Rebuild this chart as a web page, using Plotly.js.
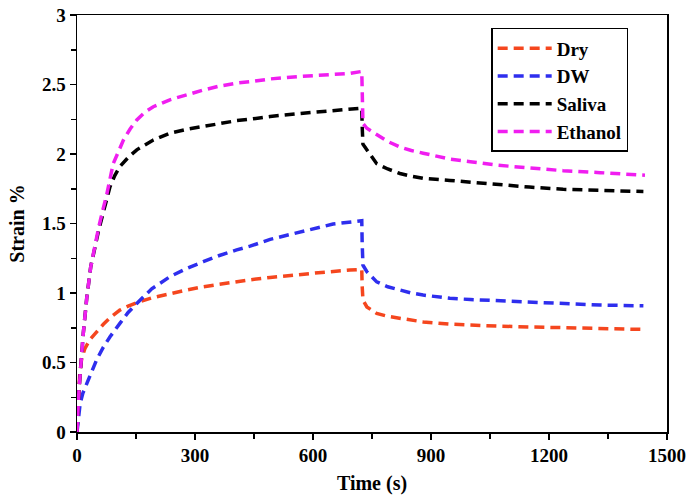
<!DOCTYPE html>
<html>
<head>
<meta charset="utf-8">
<script src="https://cdn.plot.ly/plotly-3.0.1.min.js"></script>
<style>html,body{margin:0;padding:0;background:#fff;}#chart{width:694px;height:497px;}</style>
</head>
<body>
<div id="chart"></div>
<script>
// Time (s) and strain (%)
const seriesNames = ["Dry", "DW", "Saliva", "Ethanol"];
const seriesColors = ["#F5461E", "#2E2EEE", "#000000", "#F01EF0"];

const dryTime   = [0, 3, 7, 12, 20, 33, 50, 67, 85, 109, 130, 152, 190, 236, 280, 321, 360, 406, 440, 491, 560, 630, 694, 724, 725, 727, 737, 762, 790, 821, 850, 880, 948, 1000, 1067, 1150, 1236, 1330, 1440];
const dryStrain = [0, 0.25, 0.42, 0.53, 0.60, 0.665, 0.725, 0.775, 0.825, 0.877, 0.905, 0.930, 0.965, 0.997, 1.022, 1.045, 1.062, 1.080, 1.095, 1.112, 1.133, 1.150, 1.165, 1.170, 1.05, 0.95, 0.900, 0.853, 0.832, 0.817, 0.803, 0.792, 0.776, 0.768, 0.762, 0.756, 0.750, 0.744, 0.738];

const dwTime   = [0, 3, 8, 15, 25, 37, 50, 67, 84, 110, 130, 152, 190, 236, 280, 321, 360, 406, 440, 491, 567, 651, 700, 724, 725, 727, 737, 762, 790, 821, 850, 880, 948, 1000, 1067, 1150, 1236, 1330, 1440];
const dwStrain = [0, 0.10, 0.205, 0.28, 0.35, 0.44, 0.52, 0.61, 0.685, 0.785, 0.860, 0.925, 1.030, 1.117, 1.178, 1.225, 1.268, 1.310, 1.337, 1.386, 1.440, 1.496, 1.512, 1.520, 1.36, 1.20, 1.153, 1.080, 1.045, 1.020, 1.000, 0.985, 0.962, 0.953, 0.944, 0.932, 0.920, 0.913, 0.908];

const salivaTime   = [0, 5, 16, 25, 35, 45, 55, 65, 75, 84, 96, 109, 130, 152, 194, 236, 280, 321, 360, 406, 440, 491, 560, 630, 694, 724, 725, 727, 732, 737, 750, 762, 790, 821, 850, 880, 948, 1000, 1067, 1150, 1236, 1330, 1440];
const salivaStrain = [0, 0.30, 0.71, 0.97, 1.19, 1.33, 1.45, 1.56, 1.66, 1.765, 1.845, 1.910, 1.975, 2.030, 2.100, 2.150, 2.178, 2.197, 2.220, 2.240, 2.250, 2.270, 2.290, 2.305, 2.320, 2.330, 2.20, 2.07, 2.05, 2.03, 1.975, 1.930, 1.892, 1.860, 1.840, 1.825, 1.810, 1.797, 1.780, 1.762, 1.746, 1.737, 1.730];

const ethanolTime   = [0, 5, 16, 25, 35, 45, 55, 65, 75, 92, 105, 118, 135, 152, 172, 194, 236, 280, 321, 360, 406, 440, 491, 560, 630, 694, 724, 725, 727, 737, 750, 762, 790, 821, 850, 880, 948, 1000, 1067, 1150, 1236, 1330, 1444];
const ethanolStrain = [0, 0.30, 0.71, 0.97, 1.19, 1.34, 1.47, 1.59, 1.70, 1.93, 2.02, 2.10, 2.18, 2.245, 2.300, 2.340, 2.390, 2.428, 2.460, 2.487, 2.510, 2.520, 2.540, 2.556, 2.570, 2.580, 2.594, 2.40, 2.22, 2.185, 2.160, 2.140, 2.090, 2.050, 2.025, 2.006, 1.963, 1.945, 1.920, 1.900, 1.880, 1.866, 1.847];

const xTickVals = [0, 300, 600, 900, 1200, 1500];
const xTickText = ["0", "300", "600", "900", "1200", "1500"];
const yTickVals = [0, 0.5, 1, 1.5, 2, 2.5, 3];
const yTickText = ["0", "0.5", "1", "1.5", "2", "2.5", "3"];

const times = [dryTime, dwTime, salivaTime, ethanolTime];
const strains = [dryStrain, dwStrain, salivaStrain, ethanolStrain];

const fontFam = "Liberation Serif, Times New Roman, serif";
const b = s => "<b>" + s + "</b>";

const traces = seriesNames.map((n, i) => ({
  type: "scatter",
  mode: "lines",
  name: b(n),
  x: times[i],
  y: strains[i],
  line: { color: seriesColors[i], width: 3.5, dash: "10px,6px" }
}));

const layout = {
  width: 694,
  height: 497,
  margin: { l: 77, r: 27, t: 15, b: 65 },
  paper_bgcolor: "#ffffff",
  plot_bgcolor: "#ffffff",
  font: { family: fontFam, color: "#000", size: 18 },
  showlegend: true,
  legend: {
    x: 0.702, y: 0.969, xanchor: "left", yanchor: "top",
    bgcolor: "#ffffff", bordercolor: "#000", borderwidth: 1.5,
    font: { family: fontFam, size: 19, color: "#000" },
    itemwidth: 54,
    tracegroupgap: 0
  },
  xaxis: {
    range: [0, 1500],
    tickvals: xTickVals,
    ticktext: xTickText.map(b),
    ticks: "outside", ticklen: 6, tickwidth: 1.5, tickcolor: "#000",
    minor: { dtick: 150, ticks: "outside", ticklen: 5, tickwidth: 1.5, tickcolor: "#000", showgrid: false },
    showgrid: false, zeroline: false,
    showline: true, linecolor: "#000", linewidth: 1.5, mirror: true,
    tickfont: { family: fontFam, size: 19, color: "#000" },
    title: { text: b("Time (s)"), font: { family: fontFam, size: 20, color: "#000" }, standoff: 10 }
  },
  yaxis: {
    range: [0, 3],
    tickvals: yTickVals,
    ticktext: yTickText.map(b),
    ticks: "outside", ticklen: 6, tickwidth: 1.5, tickcolor: "#000",
    minor: { dtick: 0.25, ticks: "outside", ticklen: 5, tickwidth: 1.5, tickcolor: "#000", showgrid: false },
    showgrid: false, zeroline: false,
    showline: true, linecolor: "#000", linewidth: 1.5, mirror: true,
    tickfont: { family: fontFam, size: 19, color: "#000" },
    title: { text: b("Strain %"), font: { family: fontFam, size: 20, color: "#000" }, standoff: 12 }
  }
};

Plotly.newPlot("chart", traces, layout, { displayModeBar: false, staticPlot: true });
</script>
</body>
</html>
